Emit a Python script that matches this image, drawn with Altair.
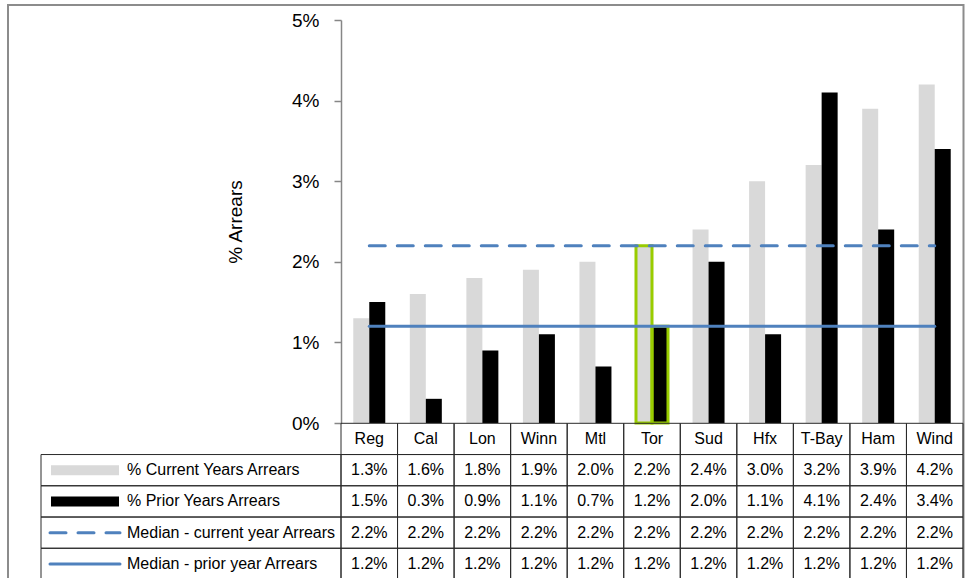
import altair as alt
import pandas as pd

# ---------------- data ----------------
categories = ["Reg", "Cal", "Lon", "Winn", "Mtl", "Tor", "Sud", "Hfx", "T-Bay", "Ham", "Wind"]
current_years = [1.3, 1.6, 1.8, 1.9, 2.0, 2.2, 2.4, 3.0, 3.2, 3.9, 4.2]
prior_years = [1.5, 0.3, 0.9, 1.1, 0.7, 1.2, 2.0, 1.1, 4.1, 2.4, 3.4]
median_current = [2.2, 2.2, 2.2, 2.2, 2.2, 2.2, 2.2, 2.2, 2.2, 2.2, 2.2]
median_prior = [1.2, 1.2, 1.2, 1.2, 1.2, 1.2, 1.2, 1.2, 1.2, 1.2, 1.2]

series_keys = ["cur", "pri", "mcur", "mpri"]
series_labels = [
    "% Current Years Arrears",
    "% Prior Years Arrears",
    "Median - current year Arrears",
    "Median - prior year Arrears",
]
highlight_category = "Tor"
y_ticks = [0, 1, 2, 3, 4, 5]

# ---------------- tables ----------------
series_values = {
    "cur": current_years,
    "pri": prior_years,
    "mcur": median_current,
    "mpri": median_prior,
}
rows = []
for key in series_keys:
    for c, v in zip(categories, series_values[key]):
        rows.append({"cat": c, "series": key, "row": key, "value": v,
                     "text": f"{v:.1f}%"})
long_df = pd.DataFrame(rows)
bars_df = long_df[long_df.series.isin(["cur", "pri"])]
header_df = pd.DataFrame({"cat": categories, "row": ["h"] * len(categories),
                          "text": categories})
cells_df = pd.DataFrame([{"cat": c, "row": r} for c in categories
                         for r in ["h"] + series_keys])
legend_df = pd.DataFrame({"row": series_keys, "label": series_labels})
frame_df = pd.DataFrame({"k": [0]})

row_domain = ["h"] + series_keys
FONT = "Liberation Sans"
BLUE = "#4f81bd"
LINE = "#2a2a2a"
FS = 16

x_scale = alt.Scale(type="band", domain=categories, paddingInner=0, paddingOuter=0)
X_noaxis = alt.X("cat:N", scale=x_scale, axis=None)
X_axis = alt.X("cat:N", scale=x_scale, title=None,
               axis=alt.Axis(labels=False, ticks=False, domainColor="black",
                             domainWidth=1.5, grid=False))
v_scale = alt.Scale(domain=[0, 5], nice=False, zero=True)
Yv_noaxis = alt.Y("value:Q", scale=v_scale, axis=None)
Yv_axis = alt.Y(
    "value:Q", scale=v_scale,
    axis=alt.Axis(values=y_ticks, labelExpr="datum.value + '%'", grid=False,
                  labelFontSize=19, labelPadding=15, labelColor="black",
                  labelFlush=False, labelOverlap=False,
                  tickSize=7, tickColor="#868686", tickWidth=1.5,
                  domainColor="#868686", domainWidth=1.5,
                  title="% Arrears", titleFontSize=19, titleFontWeight="normal",
                  titleColor="black", titleAngle=270, titleAlign="center",
                  titleBaseline="middle", titleX=-106, titleY=201.5),
)
Yr = alt.Y("row:N", scale=alt.Scale(type="band", domain=row_domain,
                                    range=[403.3, 559.5],
                                    paddingInner=0, paddingOuter=0), axis=None)
offset = alt.XOffset("series:N", scale=alt.Scale(domain=["cur", "pri"],
                                                 paddingInner=0, paddingOuter=0.767))

bars = alt.Chart(bars_df).mark_bar().encode(
    x=X_axis, xOffset=offset, y=Yv_axis,
    color=alt.Color("series:N", scale=alt.Scale(domain=["cur", "pri"],
                                                range=["#d9d9d9", "#000000"]),
                    legend=None),
)

highlight = alt.Chart(bars_df).transform_filter(
    alt.datum.cat == highlight_category
).mark_bar(fill="transparent", stroke="#99cc00", strokeWidth=3).encode(
    x=X_noaxis, xOffset=offset, y=Yv_noaxis,
)

med_cur = alt.Chart(long_df[long_df.series == "mcur"]).mark_line(
    color=BLUE, strokeWidth=3, strokeDash=[16, 12], strokeCap="round"
).encode(x=X_noaxis, y=Yv_noaxis)

med_pri = alt.Chart(long_df[long_df.series == "mpri"]).mark_line(
    color=BLUE, strokeWidth=3, strokeCap="round"
).encode(x=X_noaxis, y=Yv_noaxis)

cells = alt.Chart(cells_df).mark_rect(
    fill="transparent", stroke=LINE, strokeWidth=1
).encode(x=X_noaxis, y=Yr)

legend_cells = alt.Chart(legend_df).mark_rect(
    fill="transparent", stroke=LINE, strokeWidth=1
).encode(x=alt.value(-300), x2=alt.value(0), y=Yr)

values_text = alt.Chart(long_df).mark_text(
    fontSize=FS, baseline="middle", align="center", color="black"
).encode(x=X_noaxis, y=Yr, text="text:N")

header_text = alt.Chart(header_df).mark_text(
    fontSize=FS, baseline="middle", align="center", color="black"
).encode(x=X_noaxis, y=Yr, text="text:N")

legend_text = alt.Chart(legend_df).mark_text(
    fontSize=FS, baseline="middle", align="left", color="black"
).encode(x=alt.value(-214), y=Yr, text="label:N")

sw_cur = alt.Chart(legend_df[legend_df.row == "cur"]).mark_rule(
    color="#d9d9d9", strokeWidth=10, strokeCap="butt"
).encode(x=alt.value(-290), x2=alt.value(-222), y=Yr)
sw_pri = alt.Chart(legend_df[legend_df.row == "pri"]).mark_rule(
    color="#000000", strokeWidth=10, strokeCap="butt"
).encode(x=alt.value(-290), x2=alt.value(-222), y=Yr)
sw_mcur = alt.Chart(legend_df[legend_df.row == "mcur"]).mark_rule(
    color=BLUE, strokeWidth=3, strokeCap="round", strokeDash=[16, 12]
).encode(x=alt.value(-291), x2=alt.value(-221), y=Yr)
sw_mpri = alt.Chart(legend_df[legend_df.row == "mpri"]).mark_rule(
    color=BLUE, strokeWidth=3, strokeCap="round"
).encode(x=alt.value(-291), x2=alt.value(-221), y=Yr)

frame = alt.Chart(frame_df).mark_rect(
    fill="transparent", stroke="#8c8c8c", strokeWidth=2
).encode(x=alt.value(-333), x2=alt.value(622.5), y=alt.value(-15), y2=alt.value(600))

chart = alt.layer(
    frame, bars, highlight, med_cur, med_pri, cells, legend_cells,
    values_text, header_text, legend_text, sw_cur, sw_pri, sw_mcur, sw_mpri,
).resolve_scale(y="independent").properties(
    width=622, height=403,
    autosize=alt.AutoSizeParams(type="none"),
    padding={"left": 341, "top": 20, "right": 4, "bottom": 155},
    background="white",
).configure(font=FONT).configure_view(strokeWidth=0)

chart.save("out.html", embed_options={"renderer": "svg", "actions": False})
